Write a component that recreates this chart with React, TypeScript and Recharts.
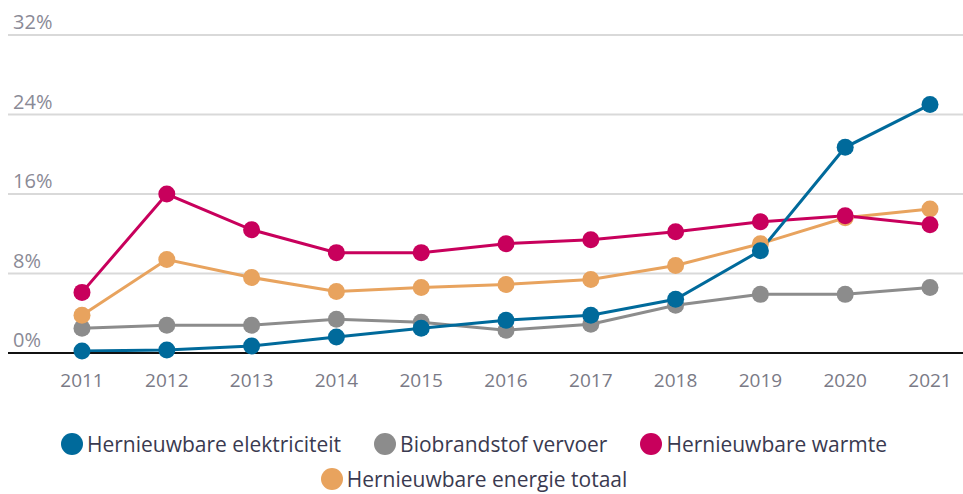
import React from "react";
import { LineChart, Line, XAxis, YAxis, CartesianGrid } from "recharts";

const years = ["2011", "2012", "2013", "2014", "2015", "2016", "2017", "2018", "2019", "2020", "2021"];
const elektriciteit = [0.2, 0.3, 0.7, 1.6, 2.5, 3.3, 3.8, 5.4, 10.3, 20.7, 25.0];
const biobrandstof = [2.5, 2.8, 2.8, 3.4, 3.1, 2.3, 2.9, 4.8, 5.9, 5.9, 6.6];
const warmte = [6.1, 16.0, 12.4, 10.1, 10.1, 11.0, 11.4, 12.2, 13.2, 13.8, 12.9];
const totaal = [3.8, 9.4, 7.6, 6.2, 6.6, 6.9, 7.4, 8.8, 11.0, 13.6, 14.5];
const yTicks = [0, 8, 16, 24, 32];

const series = [
  { key: "elektriciteit", name: "Hernieuwbare elektriciteit", color: "#006a9b" },
  { key: "biobrandstof", name: "Biobrandstof vervoer", color: "#8c8c8c" },
  { key: "warmte", name: "Hernieuwbare warmte", color: "#c8005c" },
  { key: "totaal", name: "Hernieuwbare energie totaal", color: "#e8a35e" },
];
// draw order so that overlaps match the original
const drawOrder = ["biobrandstof", "totaal", "warmte", "elektriciteit"];

const data = years.map((year, i) => ({
  year,
  elektriciteit: elektriciteit[i],
  biobrandstof: biobrandstof[i],
  warmte: warmte[i],
  totaal: totaal[i],
}));

const font = "'Open Sans', Lato, sans-serif";

const YTick = (props: any) => {
  const { y, payload } = props;
  return (
    <text x={13} y={y - 6} textAnchor="start" fill="#8a8a96" fontSize={20} fontFamily={font}>
      {payload.value}%
    </text>
  );
};

export default function App() {
  return (
    <div style={{ position: "absolute", left: 0, top: 0, width: 963, height: 494, background: "#fff" }}>
      <LineChart width={963} height={400} data={data} margin={{ top: 35, right: 0, left: 0, bottom: 0 }}>
        <CartesianGrid vertical={false} stroke="#d9d9d9" strokeWidth={2} />
        <XAxis
          dataKey="year"
          height={47}
          padding={{ left: 74, right: 33 }}
          axisLine={{ stroke: "#111", strokeWidth: 2 }}
          tickLine={false}
          tickSize={0}
          tickMargin={21}
          tick={{ fill: "#7a7a86", fontSize: 19, fontFamily: font }}
        />
        <YAxis
          width={8}
          domain={[0, 32]}
          ticks={yTicks}
          interval={0}
          axisLine={false}
          tickLine={false}
          tick={YTick}
        />
        {drawOrder.map((k) => {
          const s = series.find((x) => x.key === k)!;
          return (
            <Line
              key={s.key}
              dataKey={s.key}
              name={s.name}
              stroke={s.color}
              strokeWidth={3}
              dot={{ r: 8.5, fill: s.color, stroke: "none" }}
              activeDot={false}
              isAnimationActive={false}
            />
          );
        })}
      </LineChart>
      <div
        style={{
          position: "absolute",
          top: 433,
          left: 0,
          width: 948,
          display: "flex",
          flexWrap: "wrap",
          justifyContent: "center",
          columnGap: 33,
          rowGap: 13,
          fontFamily: font,
          fontSize: 21,
          color: "#3a3a50",
          lineHeight: "22px",
        }}
      >
        {series.map((s) => (
          <div key={s.key} style={{ display: "flex", alignItems: "center", height: 22 }}>
            <span
              style={{
                display: "inline-block",
                width: 22,
                height: 22,
                borderRadius: "50%",
                background: s.color,
                marginRight: 4,
              }}
            />
            <span>{s.name}</span>
          </div>
        ))}
      </div>
    </div>
  );
}
